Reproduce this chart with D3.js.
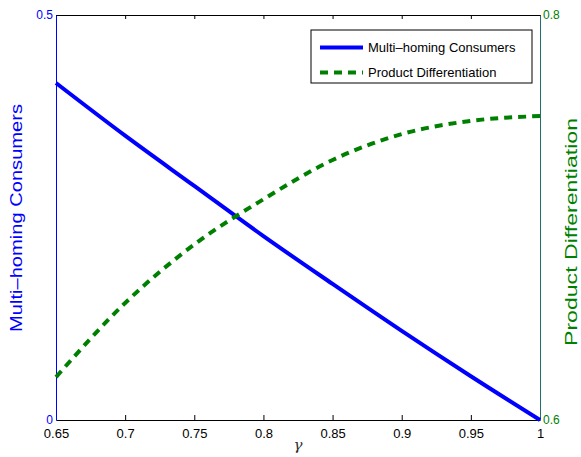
<!DOCTYPE html>
<html>
<head>
<meta charset="utf-8">
<script src="https://cdn.jsdelivr.net/npm/d3@7"></script>
<style>
  body { margin: 0; background: #fff; }
  svg { display: block; font-family: Arial, "Liberation Sans", Helvetica, sans-serif; }
</style>
</head>
<body>
<div id="chart"></div>
<script>
// gamma values along the x axis
const gammas = [0.65, 0.7, 0.75, 0.8, 0.85, 0.9, 0.95, 1.0]
// left axis series
const multiHoming = [0.416, 0.351, 0.289, 0.227, 0.168, 0.110, 0.054, 0.0]
// right axis series
const productDiff = [0.6212, 0.6578, 0.6867, 0.7090, 0.7284, 0.7412, 0.7477, 0.7501]

const xTicks = [0.65, 0.7, 0.75, 0.8, 0.85, 0.9, 0.95, 1]
const leftTicks = [0, 0.5]
const rightTicks = [0.6, 0.8]

const width = 581, height = 457
const margin = { top: 15, left: 56, right: 41, bottom: 37 }
const blue = '#0000ff', green = '#008000'

const svg = d3.select('#chart').append('svg')
  .attr('width', width).attr('height', height)

const x = d3.scaleLinear().domain([0.65, 1]).range([margin.left, width - margin.right])
const yL = d3.scaleLinear().domain([0, 0.5]).range([height - margin.bottom, margin.top])
const yR = d3.scaleLinear().domain([0.6, 0.8]).range([height - margin.bottom, margin.top])

const fmt = d => String(d)

// bottom axis
svg.append('g')
  .attr('transform', `translate(0, ${yL(0)})`)
  .call(d3.axisBottom(x).tickValues(xTicks).tickFormat(fmt).tickSizeInner(-5).tickSizeOuter(0).tickPadding(9))
  .call(g => g.select('.domain').attr('stroke', '#000'))
  .call(g => g.selectAll('text').attr('font-size', 13).attr('fill', '#000'))

// top axis (ticks only)
svg.append('g')
  .attr('transform', `translate(0, ${yL(0.5)})`)
  .call(d3.axisTop(x).tickValues(xTicks).tickFormat('').tickSizeInner(-4).tickSizeOuter(0))
  .call(g => g.select('.domain').attr('stroke', '#000'))

// left axis
svg.append('g')
  .attr('transform', `translate(${x(0.65)}, 0)`)
  .call(d3.axisLeft(yL).tickValues(leftTicks).tickFormat(fmt).tickSizeInner(0).tickSizeOuter(0).tickPadding(3))
  .call(g => g.select('.domain').attr('stroke', blue))
  .call(g => g.selectAll('text').attr('font-size', 12).attr('fill', blue))

// right axis
svg.append('g')
  .attr('transform', `translate(${x(1)}, 0)`)
  .call(d3.axisRight(yR).tickValues(rightTicks).tickFormat(fmt).tickSizeInner(0).tickSizeOuter(0).tickPadding(3))
  .call(g => g.select('.domain').attr('stroke', '#1f6f6f'))
  .call(g => g.selectAll('text').attr('font-size', 12).attr('fill', green))

// lines
const lineL = d3.line().x((d, i) => x(gammas[i])).y(d => yL(d)).curve(d3.curveMonotoneX)
const lineR = d3.line().x((d, i) => x(gammas[i])).y(d => yR(d)).curve(d3.curveMonotoneX)

svg.append('path')
  .datum(multiHoming)
  .attr('fill', 'none')
  .attr('stroke', blue)
  .attr('stroke-width', 4)
  .attr('d', lineL)

svg.append('path')
  .datum(productDiff)
  .attr('fill', 'none')
  .attr('stroke', green)
  .attr('stroke-width', 4)
  .attr('stroke-dasharray', '8,6')
  .attr('d', lineR)

// axis labels
svg.append('text')
  .attr('transform', 'translate(22, 218) rotate(-90)')
  .attr('text-anchor', 'middle')
  .attr('font-size', 17)
  .attr('textLength', 228)
  .attr('lengthAdjust', 'spacingAndGlyphs')
  .attr('fill', blue)
  .text('Multi\u2013homing Consumers')

svg.append('text')
  .attr('transform', 'translate(577, 232) rotate(-90)')
  .attr('text-anchor', 'middle')
  .attr('font-size', 17)
  .attr('textLength', 228)
  .attr('lengthAdjust', 'spacingAndGlyphs')
  .attr('fill', green)
  .text('Product Differentiation')

svg.append('text')
  .attr('x', 298)
  .attr('y', 450)
  .attr('text-anchor', 'middle')
  .attr('font-family', '"DejaVu Serif", "Liberation Serif", serif')
  .attr('font-style', 'italic')
  .attr('font-size', 15)
  .attr('fill', '#333')
  .text('\u03b3')

// legend
const legend = svg.append('g').attr('transform', 'translate(311, 30)')
legend.append('rect')
  .attr('width', 221).attr('height', 53)
  .attr('fill', '#fff').attr('stroke', '#000').attr('stroke-width', 1)

const legendItems = [
  { name: 'Multi\u2013homing Consumers', color: blue, dash: null },
  { name: 'Product Differentiation', color: green, dash: '8,6' }
]
legendItems.forEach((d, i) => {
  const ly = 17.5 + i * 25
  legend.append('line')
    .attr('x1', 9).attr('x2', 52).attr('y1', ly).attr('y2', ly)
    .attr('stroke', d.color).attr('stroke-width', 4)
    .attr('stroke-dasharray', d.dash)
  legend.append('text')
    .attr('x', 57).attr('y', ly).attr('dy', '0.35em')
    .attr('font-size', 13)
    .attr('fill', '#000')
    .text(d.name)
})
</script>
</body>
</html>
